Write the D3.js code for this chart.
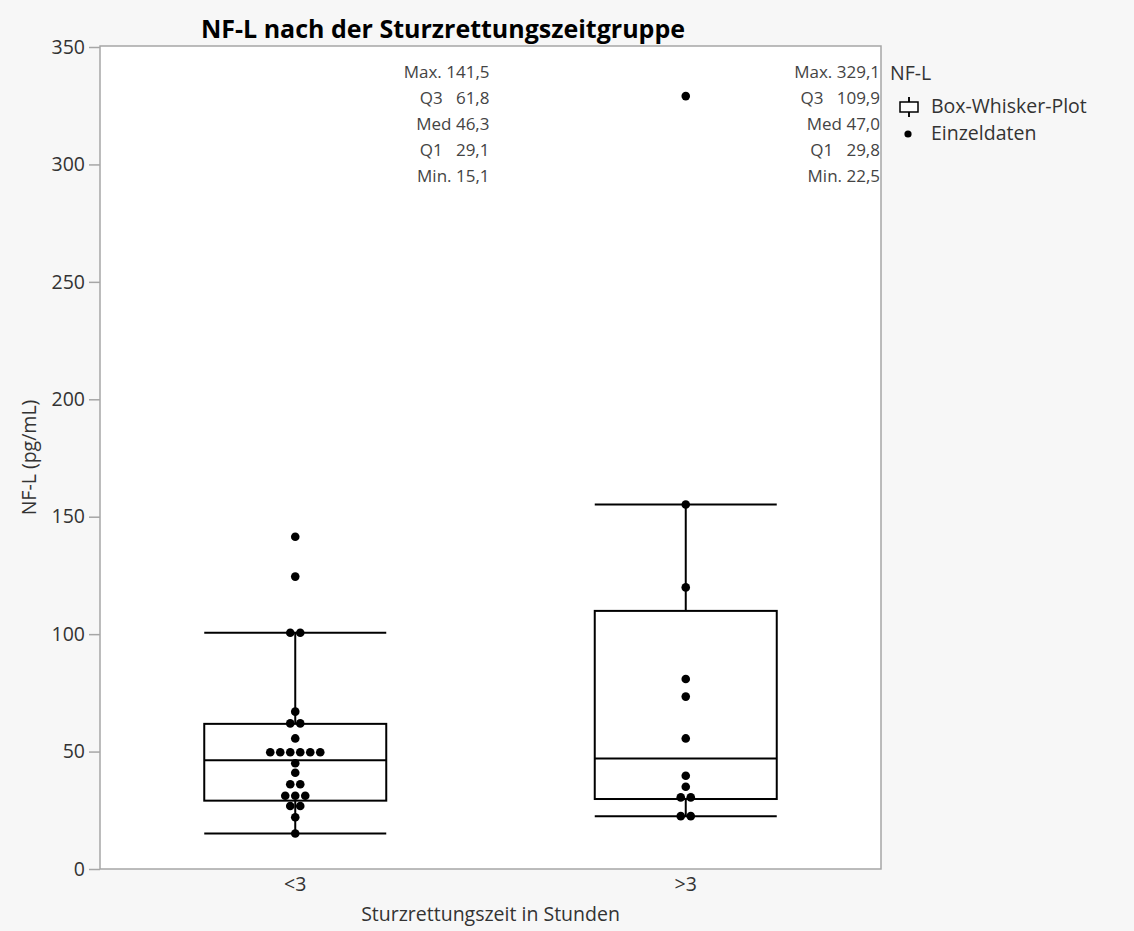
<!DOCTYPE html>
<html lang="de">
<head>
    <meta charset="UTF-8">
    <title>NF-L nach der Sturzrettungszeitgruppe</title>
    <style>
        body {
            margin: 0;
            padding: 0;
            background: #f7f7f7;
        }
        svg {
            display: block;
            font-family: "Open Sans", "Noto Sans", sans-serif;
        }
        .tick-label {
            font-size: 19.5px;
            fill: #333;
        }
        .stat {
            font-size: 17px;
            fill: #444;
            white-space: pre;
        }
        .legend-text {
            font-size: 19.5px;
            fill: #333;
        }
    </style>
</head>
<body>
    <script src="https://d3js.org/d3.v7.min.js"></script>
    <script>
        // Kategorien und Einzelwerte
        const groups = ['<3', '>3'];
        const valuesUnder3 = [141.5, 124.5, 100.6, 100.6, 67.0, 62.0, 62.0, 55.6,
            49.7, 49.7, 49.7, 49.7, 49.7, 49.7, 45.0, 41.0, 36.1, 36.1,
            31.2, 31.2, 31.2, 26.8, 26.8, 22.0, 15.1];
        const valuesOver3 = [329.1, 155.2, 119.9, 80.9, 73.4, 55.6, 39.7, 35.0,
            30.5, 30.5, 22.5, 22.5];

        // Box-Whisker-Kennzahlen
        const statLabels = ['Max. ', 'Q3   ', 'Med ', 'Q1   ', 'Min. '];
        const statsUnder3 = [141.5, 61.8, 46.3, 29.1, 15.1];
        const statsOver3 = [329.1, 109.9, 47.0, 29.8, 22.5];
        const whiskersUnder3 = [15.1, 100.6];
        const whiskersOver3 = [22.5, 155.2];

        const yTicks = [0, 50, 100, 150, 200, 250, 300, 350];

        const width = 1134;
        const height = 931;
        const margin = { top: 46, right: 253, bottom: 62, left: 100 };

        const svg = d3.select('body').append('svg')
            .attr('width', width)
            .attr('height', height);

        const de = d3.formatLocale({ decimal: ',', thousands: '.', grouping: [3], currency: ['', ' €'] });
        const fmt = de.format('.1f');

        const x = d3.scaleBand()
            .domain(groups)
            .range([margin.left, width - margin.right]);

        const y = d3.scaleLinear()
            .domain([0, 350])
            .range([height - margin.bottom, margin.top + 1]);

        // Plotbereich
        svg.append('rect')
            .attr('x', margin.left)
            .attr('y', margin.top)
            .attr('width', width - margin.left - margin.right)
            .attr('height', height - margin.top - margin.bottom)
            .attr('fill', '#fff')
            .attr('stroke', '#a6a6a6')
            .attr('stroke-width', 1.5);

        // Y-Achse
        const yAxis = svg.append('g')
            .attr('transform', `translate(${margin.left},0)`)
            .call(d3.axisLeft(y).tickValues(yTicks).tickSize(11).tickPadding(4))
            .attr('font-size', null)
            .attr('font-family', null);
        yAxis.select('.domain').remove();
        yAxis.selectAll('.tick line').attr('stroke', '#a6a6a6').attr('stroke-width', 1.5);
        yAxis.selectAll('.tick text').attr('class', 'tick-label');

        // X-Achse (nur Beschriftungen)
        const xAxis = svg.append('g')
            .attr('transform', `translate(0,${height - margin.bottom})`)
            .call(d3.axisBottom(x).tickSize(0).tickPadding(8))
            .attr('font-size', null)
            .attr('font-family', null);
        xAxis.select('.domain').remove();
        xAxis.selectAll('.tick text').attr('class', 'tick-label');

        // Achsentitel
        svg.append('text')
            .attr('class', 'tick-label')
            .attr('x', (margin.left + width - margin.right) / 2)
            .attr('y', 921)
            .attr('text-anchor', 'middle')
            .text('Sturzrettungszeit in Stunden');

        svg.append('text')
            .attr('class', 'tick-label')
            .attr('transform', `translate(36,${(margin.top + height - margin.bottom) / 2}) rotate(-90)`)
            .attr('text-anchor', 'middle')
            .text('NF-L (pg/mL)');

        // Titel
        svg.append('text')
            .attr('x', 443)
            .attr('y', 38)
            .attr('text-anchor', 'middle')
            .attr('font-size', 25)
            .attr('font-weight', 'bold')
            .attr('fill', '#000')
            .text('NF-L nach der Sturzrettungszeitgruppe');

        const boxWidth = 182;
        const dotRadius = 4.3;
        const dotStep = 10;

        const groupData = [
            { name: groups[0], values: valuesUnder3, stats: statsUnder3, whiskers: whiskersUnder3 },
            { name: groups[1], values: valuesOver3, stats: statsOver3, whiskers: whiskersOver3 }
        ];

        groupData.forEach(g => {
            const cx = x(g.name) + x.bandwidth() / 2;
            const q3 = g.stats[1], med = g.stats[2], q1 = g.stats[3];
            const plot = svg.append('g');

            // Whisker
            plot.append('line')
                .attr('x1', cx).attr('x2', cx)
                .attr('y1', y(g.whiskers[1])).attr('y2', y(q3))
                .attr('stroke', '#000').attr('stroke-width', 2);
            plot.append('line')
                .attr('x1', cx).attr('x2', cx)
                .attr('y1', y(q1)).attr('y2', y(g.whiskers[0]))
                .attr('stroke', '#000').attr('stroke-width', 2);
            g.whiskers.forEach(w => {
                plot.append('line')
                    .attr('x1', cx - boxWidth / 2).attr('x2', cx + boxWidth / 2)
                    .attr('y1', y(w)).attr('y2', y(w))
                    .attr('stroke', '#000').attr('stroke-width', 2);
            });

            // Box
            plot.append('rect')
                .attr('x', cx - boxWidth / 2)
                .attr('y', y(q3))
                .attr('width', boxWidth)
                .attr('height', y(q1) - y(q3))
                .attr('fill', 'none')
                .attr('stroke', '#000')
                .attr('stroke-width', 2);
            plot.append('line')
                .attr('x1', cx - boxWidth / 2).attr('x2', cx + boxWidth / 2)
                .attr('y1', y(med)).attr('y2', y(med))
                .attr('stroke', '#000').attr('stroke-width', 2);

            // Einzeldaten, gleiche Werte nebeneinander
            const rows = d3.group(g.values, v => v);
            const dots = [];
            rows.forEach((arr, v) => {
                arr.forEach((val, i) => {
                    dots.push({ v: val, dx: (i - (arr.length - 1) / 2) * dotStep });
                });
            });
            plot.selectAll('circle.dot')
                .data(dots)
                .enter().append('circle')
                .attr('class', 'dot')
                .attr('cx', d => cx + d.dx)
                .attr('cy', d => y(d.v))
                .attr('r', dotRadius)
                .attr('fill', '#000');

            // Kennzahlen rechtsbündig
            const statX = cx + x.bandwidth() / 2 - 1;
            plot.selectAll('text.stat')
                .data(g.stats)
                .enter().append('text')
                .attr('class', 'stat')
                .attr('x', statX)
                .attr('y', (d, i) => 78 + i * 26)
                .attr('text-anchor', 'end')
                .text((d, i) => statLabels[i] + fmt(d));
        });

        // Legende
        const legend = svg.append('g');
        legend.append('text')
            .attr('class', 'legend-text')
            .attr('x', 890)
            .attr('y', 80)
            .text('NF-L');

        legend.append('line')
            .attr('x1', 909).attr('x2', 909)
            .attr('y1', 97).attr('y2', 117)
            .attr('stroke', '#000').attr('stroke-width', 1.5);
        legend.append('rect')
            .attr('x', 900).attr('y', 102)
            .attr('width', 18).attr('height', 10)
            .attr('fill', '#fff')
            .attr('stroke', '#000').attr('stroke-width', 1.5);
        legend.append('line')
            .attr('x1', 909).attr('x2', 909)
            .attr('y1', 97).attr('y2', 102)
            .attr('stroke', '#000').attr('stroke-width', 1.5);
        legend.append('line')
            .attr('x1', 909).attr('x2', 909)
            .attr('y1', 112).attr('y2', 117)
            .attr('stroke', '#000').attr('stroke-width', 1.5);
        legend.append('text')
            .attr('class', 'legend-text')
            .attr('x', 931)
            .attr('y', 113)
            .text('Box-Whisker-Plot');

        legend.append('circle')
            .attr('cx', 908).attr('cy', 134)
            .attr('r', 3.6)
            .attr('fill', '#000');
        legend.append('text')
            .attr('class', 'legend-text')
            .attr('x', 931)
            .attr('y', 140)
            .text('Einzeldaten');
    </script>
</body>
</html>
